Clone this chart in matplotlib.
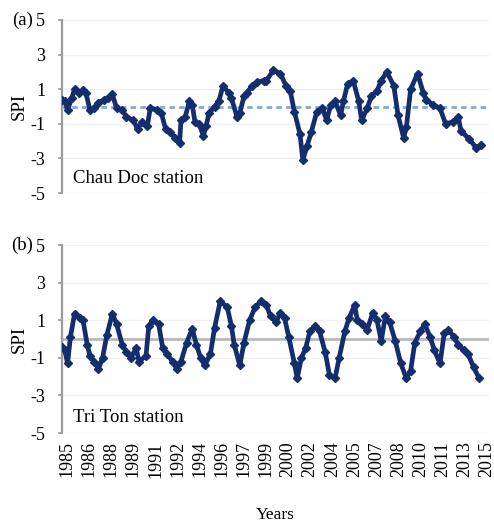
import numpy as np
import matplotlib
matplotlib.use('Agg')
import matplotlib.pyplot as plt

plt.rcParams['font.family'] = ['Liberation Serif', 'DejaVu Serif']

# SPI values (decimal year, SPI)
years_a = [1985.0, 1985.2, 1985.4, 1985.7, 1985.9, 1986.2, 1986.5, 1986.7, 1987.0, 1987.3,
           1987.6, 1988.0, 1988.3, 1988.6, 1988.9, 1989.3, 1989.6, 1990.1, 1990.4, 1990.7,
           1991.1, 1991.3, 1991.8, 1992.1, 1992.4, 1992.7, 1993.1, 1993.4, 1993.5, 1993.8,
           1994.1, 1994.3, 1994.5, 1994.8, 1995.1, 1995.3, 1995.5, 1995.9, 1996.2, 1996.5,
           1996.9, 1997.1, 1997.5, 1997.7, 1998.0, 1998.2, 1998.6, 1998.9, 1999.4, 1999.6,
           2000.1, 2000.6, 2001.0, 2001.3, 2001.6, 2002.0, 2002.2, 2002.5, 2002.8, 2003.2,
           2003.6, 2003.9, 2004.2, 2004.5, 2004.9, 2005.1, 2005.4, 2005.8, 2006.2, 2006.4,
           2006.8, 2007.1, 2007.5, 2007.8, 2008.2, 2008.7, 2009.0, 2009.4, 2009.6, 2009.9,
           2010.4, 2010.8, 2011.0, 2011.5, 2012.0, 2012.4, 2012.9, 2013.3, 2013.5, 2014.1,
           2014.6, 2014.9]
spi_a = [0.4, 0.3, -0.2, 0.5, 1.0, 0.8, 0.95, 0.8, -0.2, -0.1,
         0.2, 0.4, 0.5, 0.7, -0.1, -0.2, -0.6, -0.8, -1.3, -0.9,
         -1.1, -0.1, -0.2, -0.4, -1.3, -1.5, -1.8, -2.1, -0.8, -0.6,
         0.3, 0.1, -0.9, -1.0, -1.7, -1.1, -0.4, 0.0, 0.3, 1.2,
         0.8, 0.5, -0.6, -0.4, 0.6, 0.8, 1.2, 1.4, 1.5, 1.5,
         2.1, 1.9, 1.2, 0.9, -0.3, -1.6, -3.1, -2.3, -1.5, -0.3,
         -0.1, -0.8, 0.1, 0.3, -0.5, 0.3, 1.3, 1.5, 0.3, -0.8,
         -0.1, 0.6, 0.9, 1.5, 2.0, 1.2, -0.5, -1.8, -1.2, 1.0,
         1.9, 0.8, 0.4, 0.1, -0.1, -1.0, -0.9, -0.6, -1.4, -1.9,
         -2.4, -2.2]

years_b = [1985.0, 1985.2, 1985.4, 1985.6, 1985.9, 1986.3, 1986.5, 1986.8, 1987.0, 1987.3,
           1987.6, 1987.9, 1988.2, 1988.6, 1988.9, 1989.3, 1989.6, 1989.9, 1990.3, 1990.5,
           1991.0, 1991.2, 1991.5, 1991.9, 1992.2, 1992.5, 1992.9, 1993.2, 1993.5, 1993.9,
           1994.3, 1994.6, 1994.9, 1995.2, 1995.6, 1995.9, 1996.3, 1996.8, 1997.1, 1997.3,
           1997.7, 1998.0, 1998.4, 1998.8, 1999.2, 1999.6, 1999.9, 2000.3, 2000.6, 2000.9,
           2001.2, 2001.6, 2001.8, 2002.1, 2002.4, 2002.7, 2003.1, 2003.4, 2003.8, 2004.1,
           2004.5, 2004.8, 2005.2, 2005.5, 2005.9, 2006.1, 2006.4, 2006.8, 2007.2, 2007.5,
           2007.8, 2008.1, 2008.4, 2008.8, 2009.2, 2009.6, 2009.9, 2010.2, 2010.6, 2010.9,
           2011.3, 2011.6, 2012.0, 2012.3, 2012.6, 2013.0, 2013.3, 2013.7, 2014.0, 2014.4,
           2014.8]
spi_b = [-0.4, -0.6, -1.3, 0.1, 1.35, 1.1, 1.0, -0.3, -0.9, -1.2,
         -1.6, -1.0, 0.2, 1.35, 0.8, -0.3, -0.7, -1.0, -0.5, -1.2,
         -0.9, 0.7, 1.0, 0.8, -0.5, -0.8, -1.2, -1.6, -1.2, -0.2,
         0.55, -0.3, -1.0, -1.4, -0.8, 0.6, 2.0, 1.7, 0.7, -0.3,
         -1.4, -0.2, 1.0, 1.7, 2.0, 1.8, 1.2, 0.9, 1.4, 1.1,
         0.1, -1.3, -2.1, -1.0, -0.5, 0.4, 0.7, 0.4, -0.7, -1.9,
         -2.1, -1.0, 0.4, 1.1, 1.8, 1.0, 0.8, 0.5, 1.4, 1.0,
         -0.1, 1.2, 0.9, -0.1, -1.3, -2.1, -1.7, -0.2, 0.4, 0.8,
         0.1, -0.6, -1.3, 0.3, 0.5, 0.1, -0.3, -0.6, -0.8, -1.5,
         -2.1]

year_labels = ['1985', '1986', '1988', '1989', '1991', '1992', '1994', '1996', '1997', '1999',
               '2000', '2002', '2004', '2005', '2007', '2008', '2010', '2011', '2013', '2015']
yticks = [5, 3, 1, -1, -3, -5]

navy = '#142d6e'

fig = plt.figure(figsize=(4.94, 5.22), dpi=100)
ax_a = fig.add_axes([62/494, 1-193/522, 427/494, 173/522])
ax_b = fig.add_axes([62/494, 1-433/522, 427/494, 188/522])

tick_pos = np.linspace(1985.36, 2015.36, len(year_labels))

for ax, yrs, vals, zstyle, zcol, name, panel in [
        (ax_a, years_a, spi_a, (0, (2, 1.5)), '#86a9d3', 'Chau Doc station', '(a)'),
        (ax_b, years_b, spi_b, '-', '#b9b9b9', 'Tri Ton station', '(b)')]:
    ax.set_xlim(1985, 2015.5)
    ax.set_ylim(-5, 5)
    ax.axhline(0, color=zcol, lw=2, ls=zstyle, zorder=1)
    ax.plot(yrs, vals, color=navy, lw=3.4, marker='D', ms=4.5, zorder=3)
    ax.set_yticks(yticks)
    ax.set_yticklabels([str(t) for t in yticks], fontsize=13)
    ax.grid(axis='y', color='#f0f0f0', lw=1)
    ax.set_axisbelow(True)
    for s in ['top', 'right', 'bottom']:
        ax.spines[s].set_visible(False)
    ax.spines['left'].set_color('#9a9a9a')
    ax.spines['left'].set_linewidth(1.6)
    ax.tick_params(axis='y', length=3, width=1.2, color='#9a9a9a', pad=9)
    ax.set_ylabel('SPI', fontsize=13.5, labelpad=2)
    ax.text(0.025, 0.085, name, transform=ax.transAxes, fontsize=13.5, va='center',
            ha='left', bbox=dict(facecolor='white', edgecolor='none', pad=1))
    ax.text(-0.068, 1.0, panel, transform=ax.transAxes, fontsize=13.5,
            va='center', ha='right')

ax_a.set_xticks([])
ax_b.set_xticks(tick_pos)
ax_b.set_xticklabels(year_labels, rotation=90, fontsize=13)
ax_b.tick_params(axis='x', length=0, pad=6)
ax_b.set_xlabel('Years', fontsize=12.5, labelpad=21)

fig.savefig('out.png', dpi=100)
